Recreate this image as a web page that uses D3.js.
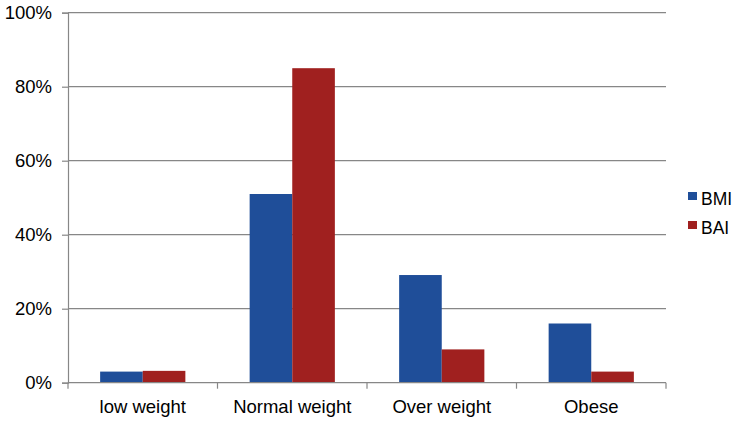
<!DOCTYPE html>
<html>
<head>
<meta charset="utf-8">
<script src="https://cdn.jsdelivr.net/npm/d3@7"></script>
<style>
  html, body { margin: 0; padding: 0; background: #fff; }
  svg { display: block; font-family: "Liberation Sans", Arial, sans-serif; }
</style>
</head>
<body>
<svg id="chart" width="739" height="423"></svg>
<script>
const categories = ["low weight", "Normal weight", "Over weight", "Obese"];
const seriesNames = ["BMI", "BAI"];
const bmiValues = [3.0, 51.0, 29.1, 16.0];
const baiValues = [3.2, 85.0, 9.0, 3.0];
const yTicks = [0, 20, 40, 60, 80, 100];
const colors = ["#1f4e99", "#a0201f"];

const svg = d3.select("#chart");
const plotLeft = 68, plotRight = 666, plotTop = 12.7, plotBottom = 382.7;

const x0 = d3.scaleBand().domain(categories).range([plotLeft, plotRight])
  .paddingInner(0.43).paddingOuter(0.215);
const x1 = d3.scaleBand().domain(seriesNames).range([0, x0.bandwidth()]).padding(0);
const y = d3.scaleLinear().domain([0, 100]).range([plotBottom, plotTop]);

// gridlines
svg.append("g").selectAll("line").data(yTicks.filter(t => t > 0)).join("line")
  .attr("x1", plotLeft).attr("x2", plotRight)
  .attr("y1", d => y(d)).attr("y2", d => y(d))
  .attr("stroke", "#878787").attr("stroke-width", 1.2);

// y axis
const yAxis = d3.axisLeft(y).tickValues(yTicks).tickFormat(d => d + "%").tickSize(6).tickPadding(10);
const gy = svg.append("g").attr("transform", `translate(${plotLeft},0)`).call(yAxis);
gy.select(".domain").attr("stroke", "#878787").attr("stroke-width", 1.2);
gy.selectAll(".tick line").attr("stroke", "#878787").attr("stroke-width", 1.2);
gy.selectAll(".tick text").attr("font-size", 18.5).attr("fill", "#000")
  .attr("font-family", "Liberation Sans, Arial, sans-serif");

// bars
const data = categories.map((c, i) => ({ cat: c, vals: [bmiValues[i], baiValues[i]] }));
const groups = svg.append("g").selectAll("g").data(data).join("g")
  .attr("transform", d => `translate(${x0(d.cat)},0)`);
groups.selectAll("rect").data(d => d.vals.map((v, j) => ({ key: seriesNames[j], v, j }))).join("rect")
  .attr("x", d => x1(d.key))
  .attr("width", x1.bandwidth())
  .attr("y", d => y(d.v))
  .attr("height", d => y(0) - y(d.v))
  .attr("fill", d => colors[d.j]);

// x axis
const xStep = x0.step();
const boundaries = d3.range(categories.length + 1).map(i => plotLeft + i * xStep);
const gx = svg.append("g");
gx.append("line").attr("x1", plotLeft).attr("x2", plotRight).attr("y1", plotBottom).attr("y2", plotBottom)
  .attr("stroke", "#878787").attr("stroke-width", 1.2);
gx.selectAll("line.tk").data(boundaries).join("line").attr("class", "tk")
  .attr("x1", d => d).attr("x2", d => d).attr("y1", plotBottom).attr("y2", plotBottom + 6)
  .attr("stroke", "#878787").attr("stroke-width", 1.2);
gx.selectAll("text").data(categories).join("text")
  .attr("x", d => x0(d) + x0.bandwidth() / 2)
  .attr("y", 413)
  .attr("text-anchor", "middle")
  .attr("font-size", 18.5).attr("fill", "#000")
  .text(d => d);

// legend
const legend = svg.append("g").selectAll("g").data(seriesNames).join("g")
  .attr("transform", (d, i) => `translate(688,${192 + i * 29})`);
legend.append("rect").attr("width", 9).attr("height", 8).attr("fill", (d, i) => colors[i]);
legend.append("text").attr("x", 13).attr("y", 12.5).attr("font-size", 17.5).attr("fill", "#000").text(d => d);
</script>
</body>
</html>
